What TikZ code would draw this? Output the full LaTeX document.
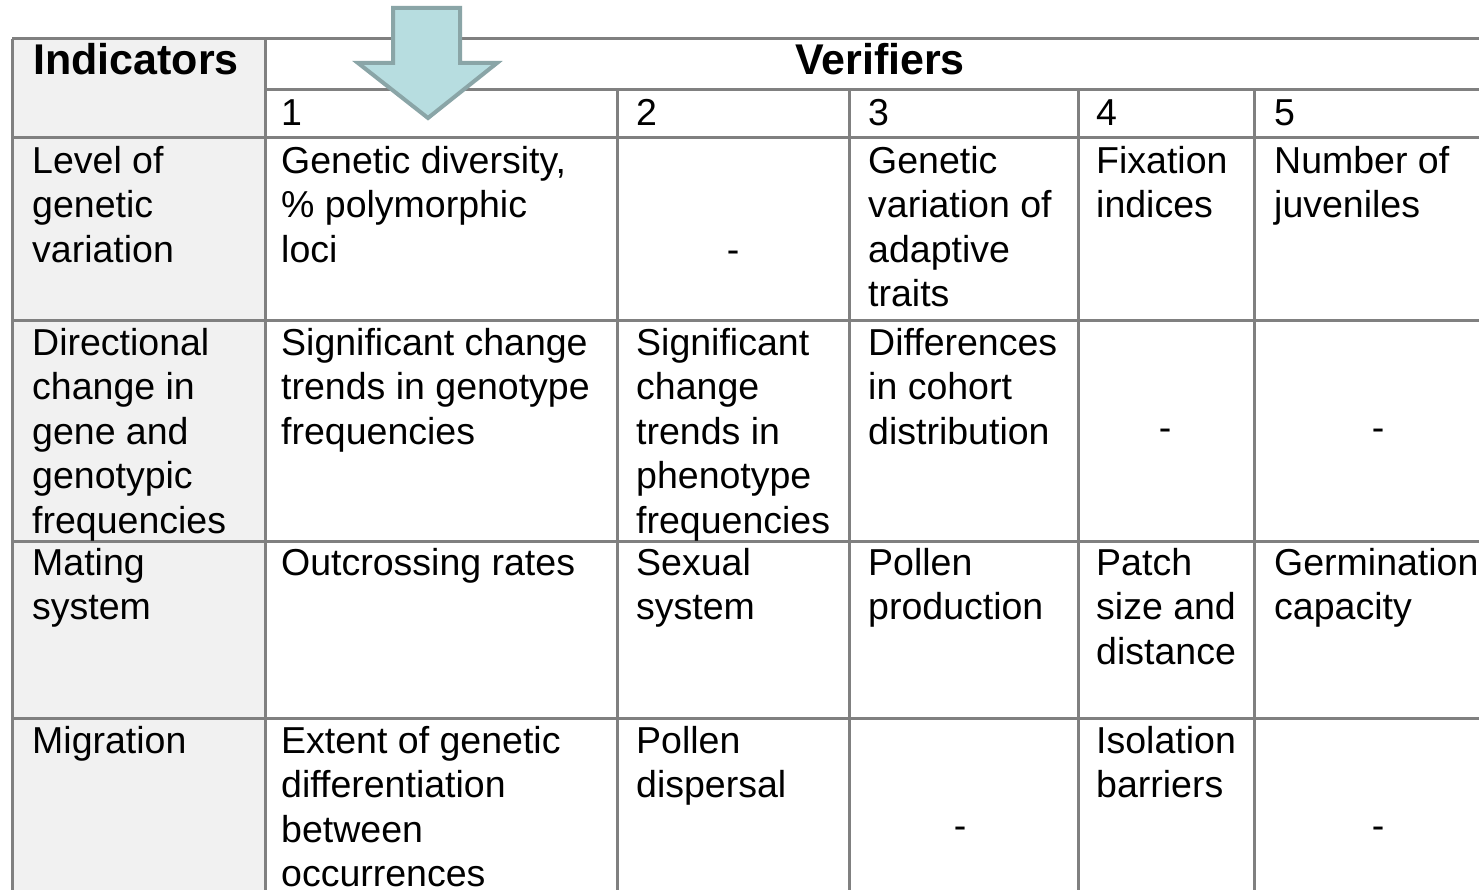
\documentclass[tikz,border=0pt]{standalone}
\usepackage{fontspec}
\setmainfont{Liberation Sans}
\newcommand\cellfont{\fontsize{37.5}{44.5}\selectfont}
\newcommand\headfont{\fontsize{43}{50}\selectfont\bfseries}
\newcommand\topst{\rule{0pt}{30pt}}
\definecolor{gridgray}{HTML}{808080}
\definecolor{indfill}{HTML}{F1F1F1}
\definecolor{arrowfill}{HTML}{B7DDE0}
\definecolor{arrowedge}{HTML}{8AA5A7}
\begin{document}
\begin{tikzpicture}[x=1pt,y=-1pt,
  grid/.style={draw=gridgray,line width=3pt},
  cell/.style={anchor=north west,inner sep=0pt,align=left,font=\cellfont},
  num/.style={anchor=base west,inner sep=0pt,font=\cellfont},
  dashcell/.style={anchor=base,inner sep=0pt,font=\cellfont},
  head/.style={inner sep=0pt,font=\headfont},
  bigarrow/.style={fill=arrowfill,draw=arrowedge,line width=4pt,line join=miter}]
\useasboundingbox (0,0) rectangle (1479,890);
\fill[white] (0,0) rectangle (1479,890);
\fill[indfill] (12,39) rectangle (265,890);
% grid
\draw[grid] (12,39) -- (1479,39);
\draw[grid] (265,90) -- (1479,90);
\draw[grid] (12,138) -- (1479,138);
\draw[grid] (12,320) -- (1479,320);
\draw[grid] (12,541) -- (1479,541);
\draw[grid] (12,718) -- (1479,718);
\draw[grid] (12,39) -- (12,890);
\draw[grid] (265,39) -- (265,890);
\foreach \x in {617,849,1078,1254} \draw[grid] (\x,90) -- (\x,890);
% headers
\node[head,anchor=base west] (hind) at (33,75) {Indicators};
\node[head,anchor=base] (hver) at (880,75) {Verifiers};
\node[num] (n1) at (281,126) {1};
\node[num] (n2) at (636,126) {2};
\node[num] (n3) at (868,126) {3};
\node[num] (n4) at (1096,126) {4};
\node[num] (n5) at (1274,126) {5};
% column 0: indicators
\node[cell] (i1) at (32,143) {\topst Level of\\genetic\\variation};
\node[cell] (i2) at (32,325) {\topst Directional\\change in\\gene and\\genotypic\\frequencies};
\node[cell] (i3) at (32,545) {\topst Mating\\system};
\node[cell] (i4) at (32,723) {\topst Migration};
% column 1
\node[cell] (a1) at (281,143) {\topst Genetic diversity,\\\% polymorphic\\loci};
\node[cell] (a2) at (281,325) {\topst Significant change\\trends in genotype\\frequencies};
\node[cell] (a3) at (281,545) {\topst Outcrossing rates};
\node[cell] (a4) at (281,723) {\topst Extent of genetic\\differentiation\\between\\occurrences};
% column 2
\node[dashcell] (b1) at (733,263) {-};
\node[cell] (b2) at (636,325) {\topst Significant\\change\\trends in\\phenotype\\frequencies};
\node[cell] (b3) at (636,545) {\topst Sexual\\system};
\node[cell] (b4) at (636,723) {\topst Pollen\\dispersal};
% column 3
\node[cell] (c1) at (868,143) {\topst Genetic\\variation of\\adaptive\\traits};
\node[cell] (c2) at (868,325) {\topst Differences\\in cohort\\distribution};
\node[cell] (c3) at (868,545) {\topst Pollen\\production};
\node[dashcell] (c4) at (960,838) {-};
% column 4
\node[cell] (d1) at (1096,143) {\topst Fixation\\indices};
\node[dashcell] (d2) at (1165,440) {-};
\node[cell] (d3) at (1096,545) {\topst Patch\\size and\\distance};
\node[cell] (d4) at (1096,723) {\topst Isolation\\barriers};
% column 5
\node[cell] (e1) at (1274,143) {\topst Number of\\juveniles};
\node[dashcell] (e2) at (1378,440) {-};
\node[cell] (e3) at (1274,545) {\topst Germination\\capacity};
\node[dashcell] (e4) at (1378,838) {-};
% arrow
\draw[bigarrow] (393,8) -- (460,8) -- (460,63) -- (497,63) -- (428,118) -- (358,63) -- (393,63) -- cycle;
\end{tikzpicture}
\end{document}
